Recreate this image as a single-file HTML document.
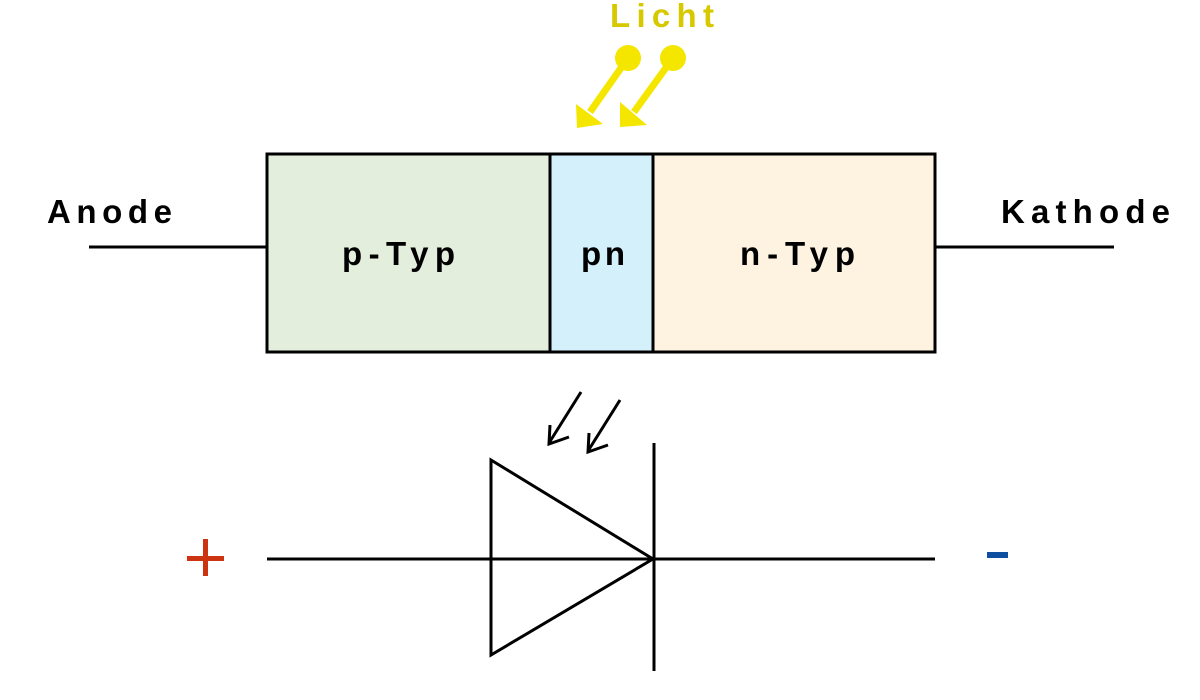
<!DOCTYPE html>
<html><head><meta charset="utf-8"><style>html,body{margin:0;padding:0;background:#fff}svg{display:block}</style></head>
<body>
<svg width="1200" height="700" viewBox="0 0 1200 700" xmlns="http://www.w3.org/2000/svg" font-family="'Liberation Sans', sans-serif" font-weight="bold">
<rect x="267" y="154" width="283" height="198" fill="#e3efdc"/>
<rect x="550" y="154" width="103" height="198" fill="#d3f0fb"/>
<rect x="653" y="154" width="282" height="198" fill="#fdf3e0"/>
<rect x="267" y="154" width="668" height="198" fill="none" stroke="#000" stroke-width="3"/>
<line x1="550" y1="154" x2="550" y2="352" stroke="#000" stroke-width="3"/>
<line x1="653" y1="154" x2="653" y2="352" stroke="#000" stroke-width="3"/>
<line x1="89" y1="247" x2="267" y2="247" stroke="#000" stroke-width="3"/>
<line x1="935" y1="247" x2="1114" y2="247" stroke="#000" stroke-width="3"/>
<g font-size="33" fill="#000">
<text x="47" y="223" textLength="125" lengthAdjust="spacing">Anode</text>
<text x="1001" y="223" textLength="169" lengthAdjust="spacing">Kathode</text>
<text x="342" y="265" textLength="113" lengthAdjust="spacing">p-Typ</text>
<text x="581" y="265" textLength="44" lengthAdjust="spacing">pn</text>
<text x="740" y="265" textLength="115" lengthAdjust="spacing">n-Typ</text>
</g>
<text x="610" y="27" font-size="33" fill="#d6c900" textLength="104" lengthAdjust="spacing">Licht</text>
<g fill="#f5e600" stroke="#f5e600">
<circle cx="628" cy="58" r="13" stroke="none"/>
<circle cx="673" cy="58" r="13" stroke="none"/>
<line x1="628" y1="58" x2="590" y2="112" stroke-width="7"/>
<line x1="673" y1="58" x2="634" y2="112" stroke-width="7"/>
<polygon points="577,128 576,104 603,124" stroke="none"/>
<polygon points="620,127 620,102 647,125" stroke="none"/>
</g>
<g stroke="#000" stroke-width="3" fill="none">
<line x1="581" y1="392" x2="549" y2="443"/>
<polyline points="550,425 549,444 569,437"/>
<line x1="620" y1="400" x2="588" y2="451"/>
<polyline points="589,433 588,452 608,445"/>
<line x1="267" y1="559" x2="935" y2="559"/>
<polygon points="491,460 491,655 653,559"/>
<line x1="654" y1="443" x2="654" y2="671"/>
</g>
<rect x="187" y="556" width="37" height="5" fill="#cc3311"/>
<rect x="203" y="539" width="5" height="37" fill="#cc3311"/>
<rect x="987" y="552" width="21" height="6" fill="#0f4fa0"/>
</svg>
</body></html>
